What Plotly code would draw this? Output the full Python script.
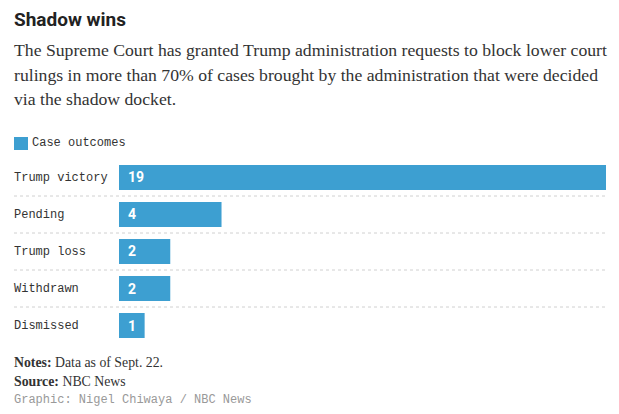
import plotly.graph_objects as go

categories = ["Trump victory", "Pending", "Trump loss", "Withdrawn", "Dismissed"]
values = [19, 4, 2, 2, 1]
series_name = "Case outcomes"

title = "Shadow wins"
subtitle_lines = [
    "The Supreme Court has granted Trump administration requests to block lower court",
    "rulings in more than 70% of cases brought by the administration that were decided",
    "via the shadow docket.",
]
notes = "<b>Notes:</b> Data as of Sept. 22."
source = "<b>Source:</b> NBC News"
credit = "Graphic: Nigel Chiwaya / NBC News"

W, H = 619, 414
BAR = "#3d9fd1"
MONO = "Liberation Mono, DejaVu Sans Mono, monospace"
SERIF = "Liberation Serif, serif"
SANS = "Roboto, Arial, sans-serif"


def px(x):
    return x / W


def py(y):
    return 1 - y / H


fig = go.Figure()
fig.add_trace(go.Bar(
    x=values, y=categories, orientation="h", marker_color=BAR,
    marker_line_width=0, name=series_name, showlegend=False,
    hoverinfo="x+y",
))

fig.update_layout(
    width=W, height=H, margin=dict(l=0, r=0, t=0, b=0),
    paper_bgcolor="white", plot_bgcolor="white",
    bargap=12 / 37,
    xaxis=dict(domain=[px(119), px(606)], range=[0, 19], visible=False, fixedrange=True),
    yaxis=dict(domain=[py(344), py(159)], range=[4.5, -0.5], visible=False,
               categoryorder="array", categoryarray=categories, fixedrange=True),
    showlegend=False,
)

ann = []
shapes = []
# title + subtitle
ann.append(dict(text="<b>%s</b>" % title, x=px(12), y=py(20), xref="paper", yref="paper",
                xanchor="left", yanchor="middle", showarrow=False,
                font=dict(family=SANS, size=19, color="#222")))
for i, line in enumerate(subtitle_lines):
    ann.append(dict(text=line, x=px(12), y=py(50 + 24.5 * i), xref="paper", yref="paper",
                    xanchor="left", yanchor="middle", showarrow=False,
                    font=dict(family=SERIF, size=17.7, color="#333")))
# legend
shapes.append(dict(type="rect", xref="paper", yref="paper", x0=px(14), x1=px(28),
                   y0=py(150), y1=py(137), fillcolor=BAR, line_width=0))
ann.append(dict(text=series_name, x=px(30), y=py(142.5), xref="paper", yref="paper",
                xanchor="left", yanchor="middle", showarrow=False,
                font=dict(family=MONO, size=12, color="#333")))
# category labels, value labels
for i, (c, v) in enumerate(zip(categories, values)):
    ann.append(dict(text=c, x=px(12), y=c, xref="paper", yref="y", yshift=-0.5,
                    xanchor="left", yanchor="middle", showarrow=False,
                    font=dict(family=MONO, size=12, color="#333")))
    ann.append(dict(text="<b>%d</b>" % v, x=0, y=c, xref="x", yref="y", xshift=7,
                    xanchor="left", yanchor="middle", showarrow=False,
                    font=dict(family=SANS, size=14, color="white")))
# dotted separators
for i in range(len(categories) - 1):
    shapes.append(dict(type="line", xref="paper", yref="y", x0=px(14), x1=px(606),
                       y0=i + 0.5, y1=i + 0.5, line=dict(color="#d0d0d0", width=1, dash="dot")))
# footer
ann.append(dict(text=notes, x=px(12), y=py(362), xref="paper", yref="paper",
                xanchor="left", yanchor="middle", showarrow=False,
                font=dict(family=SERIF, size=13.8, color="#333")))
ann.append(dict(text=source, x=px(12), y=py(381.5), xref="paper", yref="paper",
                xanchor="left", yanchor="middle", showarrow=False,
                font=dict(family=SERIF, size=13.8, color="#333")))
ann.append(dict(text=credit, x=px(12), y=py(400), xref="paper", yref="paper",
                xanchor="left", yanchor="middle", showarrow=False,
                font=dict(family=MONO, size=12, color="#999")))

fig.update_layout(annotations=ann, shapes=shapes)
fig.write_html("out.html", config={"displayModeBar": False},
               post_script="document.body.style.margin='0';document.body.style.overflow='hidden';")
